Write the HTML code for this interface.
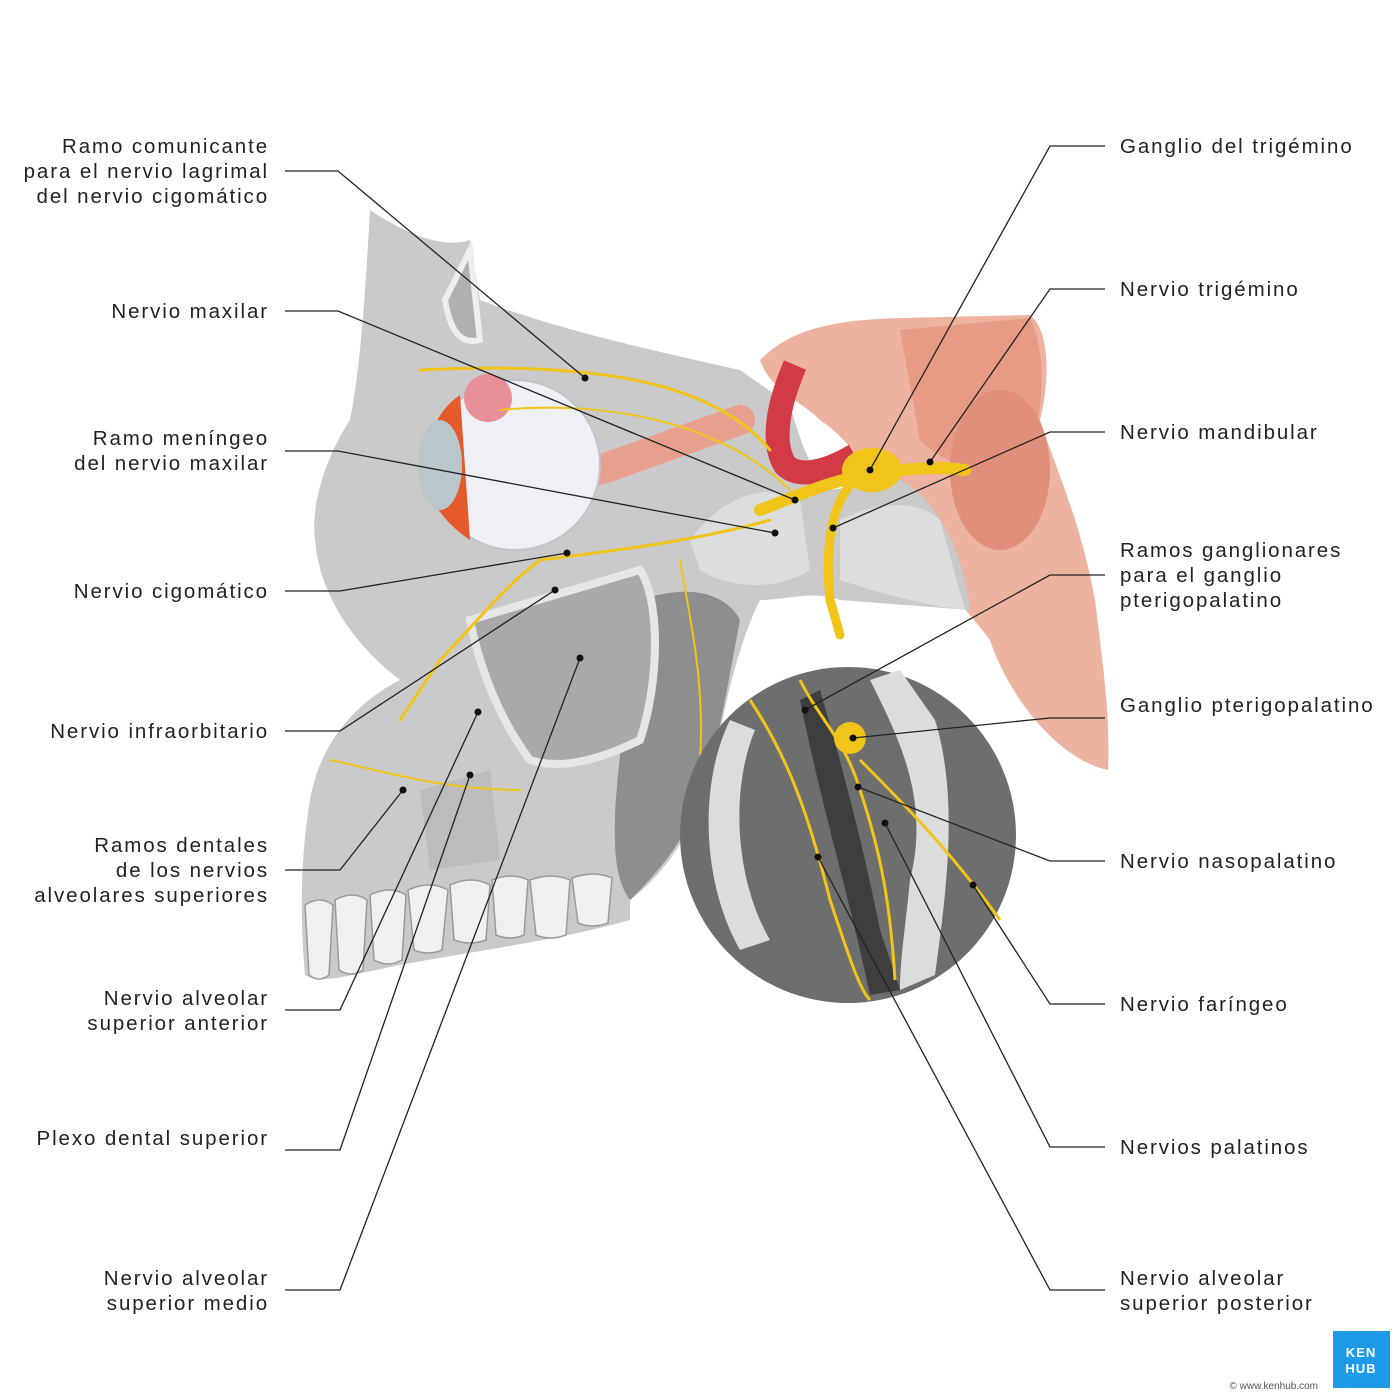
<!DOCTYPE html>
<html><head><meta charset="utf-8"><style>
html,body{margin:0;padding:0;background:#fff}
svg{display:block}
text{font-family:"Liberation Sans",sans-serif;font-size:20.5px;fill:#222;letter-spacing:1.9px}
.r{text-anchor:end}
</style></head><body>
<svg width="1400" height="1400" viewBox="0 0 1400 1400" xmlns="http://www.w3.org/2000/svg">
<!-- muscle -->
<path d="M760,360 C790,330 830,320 900,318 L1030,315 C1050,330 1050,380 1040,420 C1060,480 1080,520 1095,600 C1105,680 1110,720 1108,770 C1060,760 1010,700 990,640 C960,600 920,560 900,540 C880,480 850,440 820,420 C800,400 770,390 760,360Z" fill="#eeb2a0"/>
<path d="M900,330 L1030,318 C1050,360 1040,420 1030,460 C1000,480 950,470 920,440Z" fill="#e79a86"/>
<ellipse cx="1000" cy="470" rx="50" ry="80" fill="#e08f7c"/>
<!-- skull -->
<path d="M370,210 C400,230 440,250 470,240 L480,300 C560,330 650,350 740,370 L790,405 C800,440 810,470 830,490 L900,480 C940,500 965,560 970,610 L840,600 C810,590 790,600 760,600 C740,640 725,700 715,760 C700,820 670,870 630,900 L630,920 C560,940 480,950 400,965 C350,975 320,985 305,975 C300,920 300,860 310,800 C320,740 360,700 400,680 C360,650 320,600 315,540 C310,500 330,450 350,420 C360,370 365,300 370,210Z" fill="#cacaca"/>
<path d="M640,600 C700,580 730,600 740,620 C725,700 715,760 700,800 C680,850 650,880 630,900 C600,860 620,760 640,600Z" fill="#8e8e8e"/>
<path d="M470,620 L640,570 C660,600 660,680 640,740 C600,760 560,770 530,760 C500,720 480,670 470,620Z" fill="#a9a9a9" stroke="#e6e6e6" stroke-width="8"/>
<path d="M445,300 L470,250 L480,340 C460,345 450,330 445,300Z" fill="#b0b0b0" stroke="#eee" stroke-width="6"/>
<path d="M690,540 C720,500 760,480 800,500 L810,570 C780,590 730,590 700,570Z" fill="#ddd"/>
<path d="M840,520 C880,500 920,500 940,520 L965,610 C920,605 870,590 840,580Z" fill="#ddd"/>
<path d="M420,790 L490,770 L500,860 L430,870Z" fill="#bcbcbc"/>
<!-- teeth -->
<g fill="#f0f0f0" stroke="#9a9a9a" stroke-width="1.5">
<path d="M305,905 q15,-10 28,0 l-4,70 q-10,8 -20,0z"/>
<path d="M335,900 q18,-10 32,0 l-4,70 q-12,8 -24,0z"/>
<path d="M370,895 q20,-10 36,0 l-4,65 q-14,8 -28,0z"/>
<path d="M408,890 q22,-10 40,0 l-6,60 q-14,6 -28,0z"/>
<path d="M450,885 q22,-10 40,0 l-4,55 q-16,6 -32,0z"/>
<path d="M492,880 q20,-8 36,0 l-4,55 q-14,6 -28,0z"/>
<path d="M530,880 q22,-8 40,0 l-4,55 q-16,6 -30,0z"/>
<path d="M572,878 q22,-8 40,0 l-4,45 q-16,6 -30,0z"/>
</g>
<!-- vessel -->
<path d="M795,365 C780,400 770,440 785,465 C800,480 830,470 855,455" stroke="#d23b45" stroke-width="24" fill="none"/>
<!-- optic muscle -->
<path d="M600,470 L740,420" stroke="#e8a08e" stroke-width="30" stroke-linecap="round"/>
<!-- eye -->
<circle cx="515" cy="465" r="85" fill="#eef0f5" stroke="#bfc3cc" stroke-width="2"/>
<path d="M460,395 L470,540 C440,520 420,490 425,455 C430,425 445,405 460,395Z" fill="#e45a2a"/>
<ellipse cx="440" cy="465" rx="22" ry="45" fill="#b9c7cb"/>
<circle cx="488" cy="398" r="24" fill="#e8909a"/>
<!-- nerves -->
<g stroke="#f0c419" fill="none" stroke-linecap="round">
<path d="M760,510 C800,495 830,480 870,475 C900,470 930,465 965,470" stroke-width="12"/>
<path d="M850,485 C830,510 825,550 830,600 L840,635" stroke-width="9"/>
<path d="M770,450 C720,390 620,360 420,370" stroke-width="3"/>
<path d="M790,490 C720,420 600,400 500,410" stroke-width="2"/>
<path d="M770,520 C700,540 620,550 540,560 C500,590 470,630 440,660 L400,720" stroke-width="3"/>
<path d="M680,560 C690,620 705,680 700,760" stroke-width="2"/>
<path d="M330,760 C380,770 440,790 520,790" stroke-width="2"/>
</g>
<ellipse cx="872" cy="470" rx="30" ry="22" fill="#f0c419"/>
<!-- inset -->
<circle cx="848" cy="835" r="168" fill="#6e6e6e"/>
<path d="M730,720 C700,780 700,880 740,950 L770,940 C735,880 730,790 755,730Z" fill="#dcdcdc"/>
<path d="M870,680 C900,740 930,800 910,880 C905,930 900,960 900,990 L935,975 C945,900 960,800 935,720 L900,670Z" fill="#dcdcdc"/>
<path d="M820,690 C840,760 860,830 880,930 L900,990 L870,995 C850,900 820,800 800,700Z" fill="#3e3e3e"/>
<g stroke="#f0c419" fill="none" stroke-width="3">
<path d="M800,680 C820,720 845,740 860,790 C880,850 890,900 895,980"/>
<path d="M750,700 C790,760 810,820 830,900 C850,960 860,990 870,1000"/>
<path d="M860,760 C900,800 950,850 1000,920"/>
</g>
<circle cx="850" cy="738" r="16" fill="#f0c419"/>
<!-- leader lines -->
<g stroke="#222" stroke-width="1.3" fill="none">
<polyline points="285,171 338,171 585,378"/>
<polyline points="285,311 338,311 795,500"/>
<polyline points="285,451 338,451 775,533"/>
<polyline points="285,591 340,591 567,553"/>
<polyline points="285,731 340,731 555,590"/>
<polyline points="285,870 340,870 403,790"/>
<polyline points="285,1010 340,1010 478,712"/>
<polyline points="285,1150 340,1150 470,775"/>
<polyline points="285,1290 340,1290 580,658"/>
<polyline points="1105,146 1050,146 870,470"/>
<polyline points="1105,289 1050,289 930,462"/>
<polyline points="1105,432 1050,432 833,528"/>
<polyline points="1105,575 1050,575 805,710"/>
<polyline points="1105,718 1050,718 853,738"/>
<polyline points="1105,861 1050,861 858,787"/>
<polyline points="1105,1004 1050,1004 973,885"/>
<polyline points="1105,1147 1050,1147 885,823"/>
<polyline points="1105,1290 1050,1290 818,857"/>
</g>
<g fill="#111">
<circle cx="585" cy="378" r="3.5"/><circle cx="795" cy="500" r="3.5"/><circle cx="775" cy="533" r="3.5"/>
<circle cx="567" cy="553" r="3.5"/><circle cx="555" cy="590" r="3.5"/><circle cx="403" cy="790" r="3.5"/>
<circle cx="478" cy="712" r="3.5"/><circle cx="470" cy="775" r="3.5"/><circle cx="580" cy="658" r="3.5"/>
<circle cx="870" cy="470" r="3.5"/><circle cx="930" cy="462" r="3.5"/><circle cx="833" cy="528" r="3.5"/>
<circle cx="805" cy="710" r="3.5"/><circle cx="853" cy="738" r="3.5"/><circle cx="858" cy="787" r="3.5"/>
<circle cx="973" cy="885" r="3.5"/><circle cx="885" cy="823" r="3.5"/><circle cx="818" cy="857" r="3.5"/>
</g>
<!-- left labels -->
<text class="r" x="269" y="153">Ramo comunicante</text>
<text class="r" x="269" y="178">para el nervio lagrimal</text>
<text class="r" x="269" y="203">del nervio cigomático</text>
<text class="r" x="269" y="318">Nervio maxilar</text>
<text class="r" x="269" y="445">Ramo meníngeo</text>
<text class="r" x="269" y="470">del nervio maxilar</text>
<text class="r" x="269" y="598">Nervio cigomático</text>
<text class="r" x="269" y="738">Nervio infraorbitario</text>
<text class="r" x="269" y="852">Ramos dentales</text>
<text class="r" x="269" y="877">de los nervios</text>
<text class="r" x="269" y="902">alveolares superiores</text>
<text class="r" x="269" y="1005">Nervio alveolar</text>
<text class="r" x="269" y="1030">superior anterior</text>
<text class="r" x="269" y="1145">Plexo dental superior</text>
<text class="r" x="269" y="1285">Nervio alveolar</text>
<text class="r" x="269" y="1310">superior medio</text>
<!-- right labels -->
<text x="1120" y="153">Ganglio del trigémino</text>
<text x="1120" y="296">Nervio trigémino</text>
<text x="1120" y="439">Nervio mandibular</text>
<text x="1120" y="557">Ramos ganglionares</text>
<text x="1120" y="582">para el ganglio</text>
<text x="1120" y="607">pterigopalatino</text>
<text x="1120" y="712">Ganglio pterigopalatino</text>
<text x="1120" y="868">Nervio nasopalatino</text>
<text x="1120" y="1011">Nervio faríngeo</text>
<text x="1120" y="1154">Nervios palatinos</text>
<text x="1120" y="1285">Nervio alveolar</text>
<text x="1120" y="1310">superior posterior</text>
<!-- logo -->
<rect x="1333" y="1331" width="57" height="57" fill="#1e9be8"/>
<text x="1361" y="1357" style="font-size:13px;fill:#fff;font-weight:bold;text-anchor:middle;letter-spacing:1px">KEN</text>
<text x="1361" y="1373" style="font-size:13px;fill:#fff;font-weight:bold;text-anchor:middle;letter-spacing:1px">HUB</text>
<text x="1318" y="1389" style="font-size:10px;fill:#555;text-anchor:end;letter-spacing:0">© www.kenhub.com</text>
</svg>
</body></html>
